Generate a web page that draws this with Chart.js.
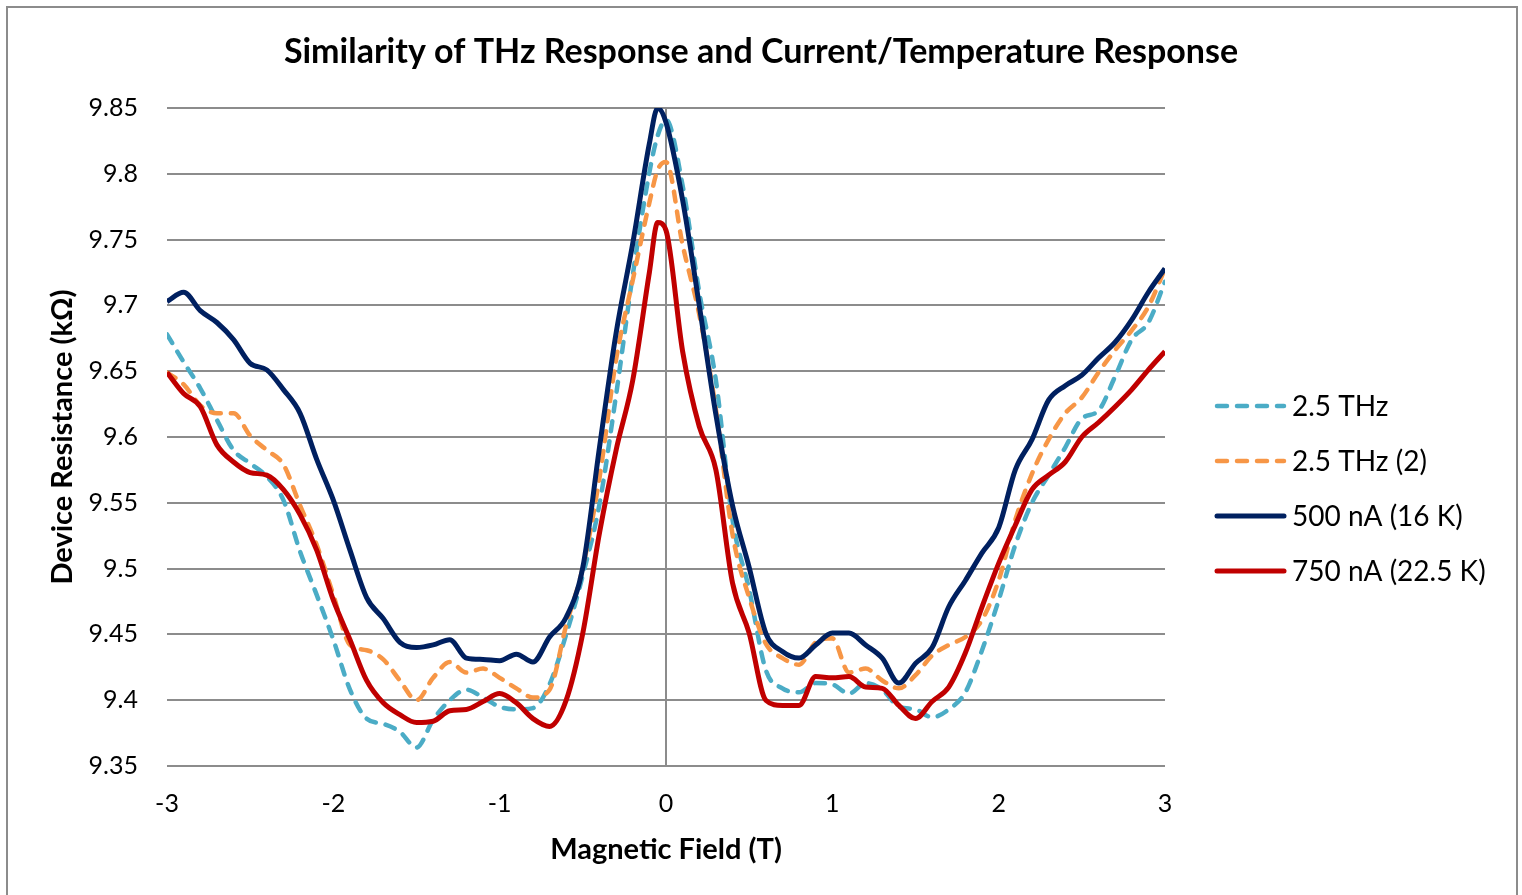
<!DOCTYPE html>
<html lang="en">
<head>
    <meta charset="UTF-8" />
    <title>Similarity of THz Response and Current/Temperature Response</title>
    <script src="https://cdn.jsdelivr.net/npm/chart.js@4.4.1/dist/chart.umd.min.js"></script>
    <style>
        html, body { margin: 0; padding: 0; background: #ffffff; }
        #wrap { width: 1522px; height: 895px; position: relative; }
    </style>
</head>
<body>
    <div id="wrap"><canvas id="chart"></canvas></div>

    <script>
        // === Data ===
        const FIELD = [-3, -2.9, -2.8, -2.7, -2.6, -2.5, -2.4, -2.3, -2.2, -2.1,
            -2, -1.9, -1.8, -1.7, -1.6, -1.5, -1.4, -1.3, -1.2, -1.1,
            -1, -0.9, -0.8, -0.7, -0.6, -0.5, -0.4, -0.3, -0.2, -0.1,
            -0.05, 0, 0.1, 0.2, 0.3, 0.4, 0.5, 0.6, 0.7, 0.8,
            0.9, 1, 1.1, 1.2, 1.3, 1.4, 1.5, 1.6, 1.7, 1.8,
            1.9, 2, 2.1, 2.2, 2.3, 2.4, 2.5, 2.6, 2.7, 2.8,
            2.9, 3];

        const THZ = [9.678, 9.657, 9.637, 9.613, 9.590, 9.580, 9.570, 9.552, 9.513, 9.480,
            9.446, 9.408, 9.386, 9.382, 9.376, 9.364, 9.385, 9.400, 9.408, 9.402,
            9.395, 9.393, 9.394, 9.412, 9.450, 9.495, 9.549, 9.632, 9.723, 9.801,
            9.829, 9.841, 9.791, 9.710, 9.643, 9.537, 9.484, 9.423, 9.409, 9.406,
            9.413, 9.412, 9.405, 9.413, 9.408, 9.395, 9.393, 9.387, 9.393, 9.406,
            9.438, 9.476, 9.518, 9.550, 9.571, 9.592, 9.614, 9.620, 9.646, 9.674,
            9.687, 9.718];

        const THZ_2 = [9.649, 9.640, 9.624, 9.618, 9.618, 9.601, 9.590, 9.579, 9.548, 9.518,
            9.480, 9.442, 9.438, 9.431, 9.415, 9.400, 9.417, 9.429, 9.421, 9.424,
            9.417, 9.409, 9.402, 9.408, 9.457, 9.501, 9.569, 9.659, 9.719, 9.778,
            9.803, 9.809, 9.746, 9.693, 9.621, 9.526, 9.478, 9.443, 9.432, 9.427,
            9.444, 9.447, 9.421, 9.424, 9.415, 9.409, 9.419, 9.434, 9.442, 9.448,
            9.461, 9.491, 9.537, 9.572, 9.598, 9.618, 9.630, 9.649, 9.666, 9.681,
            9.699, 9.728];

        const NA_500 = [9.703, 9.710, 9.696, 9.687, 9.674, 9.656, 9.651, 9.636, 9.618, 9.583,
            9.552, 9.514, 9.478, 9.462, 9.444, 9.440, 9.442, 9.446, 9.432, 9.431,
            9.430, 9.435, 9.429, 9.448, 9.463, 9.501, 9.592, 9.679, 9.747, 9.823,
            9.850, 9.839, 9.780, 9.700, 9.617, 9.548, 9.501, 9.451, 9.437, 9.432,
            9.442, 9.451, 9.451, 9.442, 9.432, 9.413, 9.428, 9.440, 9.471, 9.491,
            9.512, 9.531, 9.575, 9.598, 9.628, 9.639, 9.647, 9.660, 9.672, 9.689,
            9.710, 9.728];

        const NA_750 = [9.649, 9.633, 9.623, 9.594, 9.581, 9.573, 9.571, 9.560, 9.541, 9.514,
            9.476, 9.446, 9.415, 9.398, 9.389, 9.383, 9.384, 9.392, 9.393, 9.399,
            9.405, 9.398, 9.386, 9.380, 9.400, 9.451, 9.527, 9.590, 9.643, 9.725,
            9.763, 9.757, 9.665, 9.608, 9.575, 9.489, 9.451, 9.400, 9.396, 9.396,
            9.418, 9.417, 9.418, 9.410, 9.409, 9.396, 9.386, 9.399, 9.410, 9.436,
            9.471, 9.504, 9.533, 9.560, 9.571, 9.581, 9.600, 9.611, 9.623, 9.636,
            9.651, 9.665];

        const SERIES_LABELS = ["2.5 THz", "2.5 THz (2)", "500 nA (16 K)", "750 nA (22.5 K)"];
        const CHART_TITLE = "Similarity of THz Response and Current/Temperature Response";

        // === Helpers ===
        const FONT = "Lato, 'Open Sans', sans-serif";
        const toPoints = (ys) => FIELD.map((x, i) => ({ x: x, y: ys[i] }));

        // Title centred on the whole canvas (the built-in one would centre
        // on the area left of the legend)
        const pageTitle = {
            id: "pageTitle",
            afterDraw(chart) {
                const ctx = chart.ctx;
                ctx.save();
                ctx.fillStyle = "#000000";
                ctx.font = "bold 34px " + FONT;
                ctx.textAlign = "center";
                ctx.textBaseline = "middle";
                ctx.fillText(CHART_TITLE, 761, 52);
                ctx.restore();
            }
        };

        // Legend drawn on the right, Excel style (line sample + text)
        const sideLegend = {
            id: "sideLegend",
            afterDraw(chart) {
                const ctx = chart.ctx;
                const rows = [406, 461, 516, 571];
                ctx.save();
                chart.data.datasets.forEach((ds, i) => {
                    const y = rows[i];
                    ctx.beginPath();
                    ctx.lineWidth = ds.borderWidth;
                    ctx.strokeStyle = ds.borderColor;
                    ctx.lineCap = "round";
                    ctx.setLineDash(ds.borderDash || []);
                    ctx.moveTo(1217, y);
                    ctx.lineTo(1284, y);
                    ctx.stroke();
                    ctx.setLineDash([]);
                    ctx.fillStyle = "#000000";
                    ctx.font = "28px " + FONT;
                    ctx.textBaseline = "middle";
                    ctx.textAlign = "left";
                    ctx.fillText(ds.label, 1292, y + 1);
                });
                ctx.restore();
            }
        };

        // White background and the outer frame
        const frame = {
            id: "frame",
            beforeDraw(chart) {
                const ctx = chart.ctx;
                ctx.save();
                ctx.fillStyle = "#ffffff";
                ctx.fillRect(0, 0, chart.width, chart.height);
                ctx.restore();
            },
            afterDraw(chart) {
                const ctx = chart.ctx;
                ctx.save();
                ctx.strokeStyle = "#8c8c8c";
                ctx.lineWidth = 2;
                ctx.strokeRect(7, 7, 1510, 900);
                ctx.restore();
            }
        };

        const ctx = document.getElementById("chart").getContext("2d");
        new Chart(ctx, {
            type: "line",
            data: {
                datasets: [
                    {
                        label: SERIES_LABELS[0],
                        data: toPoints(THZ),
                        borderColor: "#4BACC6",
                        borderWidth: 4.5,
                        borderDash: [10, 10],
                        borderCapStyle: "round",
                        order: 4
                    },
                    {
                        label: SERIES_LABELS[1],
                        data: toPoints(THZ_2),
                        borderColor: "#F79646",
                        borderWidth: 4.5,
                        borderDash: [10, 10],
                        borderCapStyle: "round",
                        order: 3
                    },
                    {
                        label: SERIES_LABELS[2],
                        data: toPoints(NA_500),
                        borderColor: "#002060",
                        borderWidth: 5,
                        order: 2
                    },
                    {
                        label: SERIES_LABELS[3],
                        data: toPoints(NA_750),
                        borderColor: "#C00000",
                        borderWidth: 5,
                        order: 1
                    }
                ]
            },
            options: {
                responsive: true,
                maintainAspectRatio: false,
                animation: false,
                elements: {
                    point: { radius: 0 },
                    line: { cubicInterpolationMode: "monotone", borderJoinStyle: "round" }
                },
                layout: { padding: { left: 0, right: 357, top: 108, bottom: 0 } },
                scales: {
                    x: {
                        type: "linear",
                        min: -3,
                        max: 3,
                        afterFit: (s) => { s.height = 129; },
                        ticks: {
                            stepSize: 1,
                            padding: 23,
                            color: "#000000",
                            font: { family: FONT, size: 25 }
                        },
                        grid: {
                            drawTicks: false,
                            lineWidth: 2,
                            color: (c) => (c.tick && c.tick.value === 0 ? "#8c8c8c" : "rgba(0,0,0,0)")
                        },
                        border: { display: false },
                        title: {
                            display: true,
                            text: "Magnetic Field (T)",
                            color: "#000000",
                            font: { family: FONT, size: 29, weight: "bold" },
                            padding: { top: 0, bottom: 28 }
                        }
                    },
                    y: {
                        min: 9.35,
                        max: 9.85,
                        afterFit: (s) => { s.width = 167; },
                        ticks: {
                            stepSize: 0.05,
                            padding: 29,
                            color: "#000000",
                            font: { family: FONT, size: 25 },
                            callback: (v) => String(Number(v.toFixed(2)))
                        },
                        grid: {
                            drawTicks: false,
                            lineWidth: 2,
                            color: "#8c8c8c"
                        },
                        border: { display: false },
                        title: {
                            display: true,
                            text: "Device Resistance (kΩ)",
                            color: "#000000",
                            font: { family: FONT, size: 29, weight: "bold" },
                            padding: { top: 45, bottom: 0 }
                        }
                    }
                },
                plugins: {
                    legend: { display: false },
                    tooltip: { enabled: false },
                    title: { display: false }
                }
            },
            plugins: [frame, pageTitle, sideLegend]
        });
    </script>
</body>
</html>
